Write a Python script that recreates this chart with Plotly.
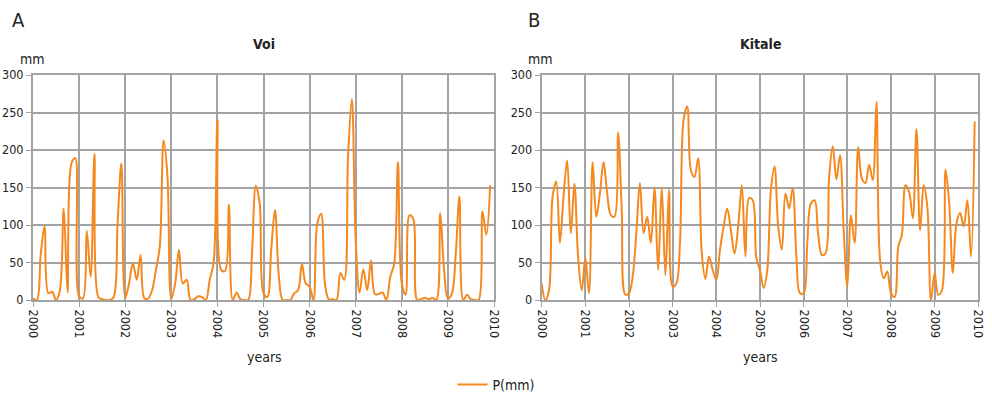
import plotly.graph_objects as go

# Monthly precipitation (mm), Jan 2000 .. Dec 2009
voi = [2, 0, 60, 98, 9, 11, 0, 13, 122, 10, 182, 189,
       5, 2, 92, 31, 195, 4, 1, 0, 0, 4, 100, 182,
       3, 22, 49, 27, 60, 2, 2, 13, 40, 71, 213, 165,
       2, 22, 67, 22, 27, 0, 1, 5, 4, 0, 27, 49,
       240, 40, 39, 127, 0, 10, 1, 0, 0, 62, 152, 129,
       9, 4, 67, 120, 31, 0, 0, 0, 9, 13, 48, 22,
       18, 0, 102, 115, 22, 1, 1, 0, 36, 27, 190, 268,
       80, 10, 41, 13, 53, 8, 8, 10, 0, 31, 48, 184,
       22, 7, 113, 108, 0, 1, 3, 1, 3, 0, 116, 40,
       2, 8, 58, 138, 0, 7, 1, 0, 0, 118, 87, 153]

kitale = [22, 0, 13, 138, 158, 76, 138, 186, 89, 155, 58, 13,
          56, 9, 184, 111, 142, 184, 142, 113, 111, 223, 120, 7,
          9, 31, 89, 156, 89, 111, 76, 150, 40, 150, 33, 147,
          18, 22, 76, 240, 258, 173, 164, 189, 62, 28, 58, 40,
          27, 67, 98, 122, 93, 62, 98, 153, 58, 136, 133, 56,
          40, 16, 40, 147, 178, 98, 67, 142, 122, 149, 58, 9,
          9, 76, 129, 133, 87, 60, 62, 164, 205, 161, 193, 93,
          18, 113, 76, 204, 162, 156, 180, 160, 264, 53, 29, 38,
          9, 4, 71, 87, 153, 144, 109, 228, 93, 153, 124, 0,
          36, 7, 13, 174, 129, 36, 102, 116, 98, 133, 58, 238]

months = [2000 + i / 12 for i in range(120)]
year_ticks = list(range(2000, 2011))
y_ticks = [0, 50, 100, 150, 200, 250, 300]

ORANGE = "#F5891F"
GRID = "#A3A3A3"
FONT = "DejaVu Sans Condensed, sans-serif"

fig = go.Figure()
fig.add_trace(go.Scatter(x=months, y=voi, mode="lines", name="P(mm)",
                         line=dict(color=ORANGE, width=2, shape="spline", smoothing=1),
                         xaxis="x", yaxis="y", showlegend=True))
fig.add_trace(go.Scatter(x=months, y=kitale, mode="lines", name="P(mm)",
                         line=dict(color=ORANGE, width=2, shape="spline", smoothing=1),
                         xaxis="x2", yaxis="y2", showlegend=False))

ydom = [(394 - 300) / 394, (394 - 75) / 394]
xcommon = dict(range=[2000, 2010], tickmode="array", tickvals=year_ticks,
               ticktext=[str(y) for y in year_ticks], tickangle=90,
               showgrid=True, gridcolor=GRID, gridwidth=2,
               showline=True, linecolor=GRID, linewidth=2, mirror=True,
               ticks="outside", ticklen=5, tickcolor=GRID, tickwidth=1,
               tickfont=dict(family=FONT, size=12.5, color="#222"), zeroline=False,
               automargin=False)
ycommon = dict(range=[0, 300], tickmode="array", tickvals=y_ticks,
               showgrid=True, gridcolor=GRID, gridwidth=2,
               showline=True, linecolor=GRID, linewidth=2, mirror=True,
               ticks="outside", ticklen=5, tickcolor=GRID, tickwidth=1,
               tickfont=dict(family=FONT, size=12.5, color="#222"), zeroline=False,
               automargin=False)

fig.update_layout(
    width=992, height=394,
    margin=dict(l=0, r=0, t=0, b=0, autoexpand=False),
    paper_bgcolor="white", plot_bgcolor="white",
    xaxis=dict(domain=[33 / 992, 494 / 992], anchor="y", **xcommon),
    yaxis=dict(domain=ydom, anchor="x", **ycommon),
    xaxis2=dict(domain=[541.7 / 992, 978.3 / 992], anchor="y2", **xcommon),
    yaxis2=dict(domain=ydom, anchor="x2", **ycommon),
    legend=dict(orientation="h", x=0.5, xanchor="center", y=(394 - 385) / 394, yanchor="middle",
                font=dict(family=FONT, size=14, color="#222"), bgcolor="rgba(0,0,0,0)"),
    font=dict(family=FONT, color="#222"),
    showlegend=True,
)

def ann(text, x, y, size=14, bold=False, xanchor="center"):
    fig.add_annotation(text=f"<b>{text}</b>" if bold else text,
                       x=x / 992, y=(394 - y) / 394, xref="paper", yref="paper",
                       showarrow=False, xanchor=xanchor, yanchor="middle",
                       font=dict(family=FONT, size=size, color="#222"))

ann("A", 10, 20, size=20, xanchor="left")
ann("B", 526, 20, size=20, xanchor="left")
ann("Voi", 264, 44, size=14, bold=True)
ann("Kitale", 760, 44, size=14, bold=True)
ann("mm", 32, 59, size=14)
ann("mm", 540, 59, size=14)
ann("years", 264, 357, size=14)
ann("years", 760, 357, size=14)

fig.write_html("out.html")
